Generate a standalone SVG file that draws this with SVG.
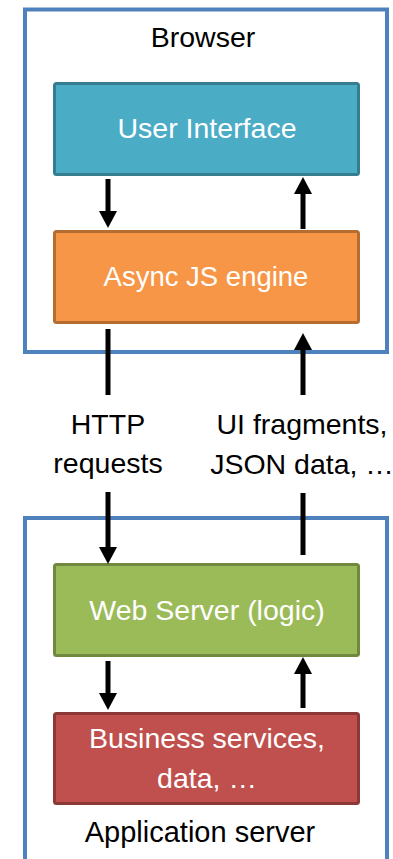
<svg xmlns="http://www.w3.org/2000/svg" width="393" height="859" viewBox="0 0 393 859">
<style>
.container{fill:#fff;stroke:#4F81BD;stroke-width:4}
.box{stroke-width:3}
.lbl{font-family:"Liberation Sans",Arial,sans-serif;font-size:28.5px;text-anchor:middle}
.wt{fill:#fff}
.bk{fill:#000}
.conn{stroke:#000;stroke-width:5;fill:none}
</style>
<defs>
<marker id="ah" markerUnits="userSpaceOnUse" viewBox="0 0 17 18" markerWidth="17" markerHeight="18" refX="5" refY="9" orient="auto">
<path d="M0,0 L17,9 L0,18 Z" fill="#000"/>
</marker>
</defs>
<rect width="393" height="859" fill="#fff"/>
<g id="browser">
<rect class="container" x="25" y="9.5" width="362" height="342.5"/>
<text class="lbl bk" x="203" y="47">Browser</text>
</g>
<g id="appserver">
<rect class="container" x="25" y="518" width="362" height="400"/>
<text class="lbl bk" x="200" y="842" style="font-size:29px">Application server</text>
</g>
<g id="ui">
<rect class="box" x="54.5" y="83.5" width="304" height="91" rx="2" fill="#4BACC6" stroke="#357D91"/>
<text class="lbl wt" x="207" y="138">User Interface</text>
</g>
<g id="asyncjs">
<rect class="box" x="54.5" y="231.5" width="304" height="91" rx="2" fill="#F79646" stroke="#B66D31"/>
<text class="lbl wt" x="206" y="286" style="font-size:27.5px">Async JS engine</text>
</g>
<g id="webserver">
<rect class="box" x="54.5" y="564.5" width="304" height="91" rx="2" fill="#9BBB59" stroke="#71893F"/>
<text class="lbl wt" x="207" y="620">Web Server (logic)</text>
</g>
<g id="business">
<rect class="box" x="54.5" y="713.5" width="304" height="90" rx="2" fill="#C0504D" stroke="#8C3836"/>
<text class="lbl wt" x="207" y="748">Business services,</text>
<text class="lbl wt" x="207" y="788">data, …</text>
</g>
<g id="labels">
<text class="lbl bk" x="108" y="434">HTTP</text>
<text class="lbl bk" x="108" y="473">requests</text>
<text class="lbl bk" x="302" y="434">UI fragments,</text>
<text class="lbl bk" x="302" y="474">JSON data, …</text>
</g>
<g id="connectors">
<line class="conn" x1="108" y1="179" x2="108" y2="216" marker-end="url(#ah)"/>
<line class="conn" x1="303" y1="229" x2="303" y2="189" marker-end="url(#ah)"/>
<line class="conn" x1="108" y1="329" x2="108" y2="395"/>
<line class="conn" x1="303" y1="395" x2="303" y2="345" marker-end="url(#ah)"/>
<line class="conn" x1="108" y1="492" x2="108" y2="552" marker-end="url(#ah)"/>
<line class="conn" x1="303" y1="493" x2="303" y2="555"/>
<line class="conn" x1="108" y1="661" x2="108" y2="698" marker-end="url(#ah)"/>
<line class="conn" x1="303" y1="708" x2="303" y2="669" marker-end="url(#ah)"/>
</g>
</svg>
